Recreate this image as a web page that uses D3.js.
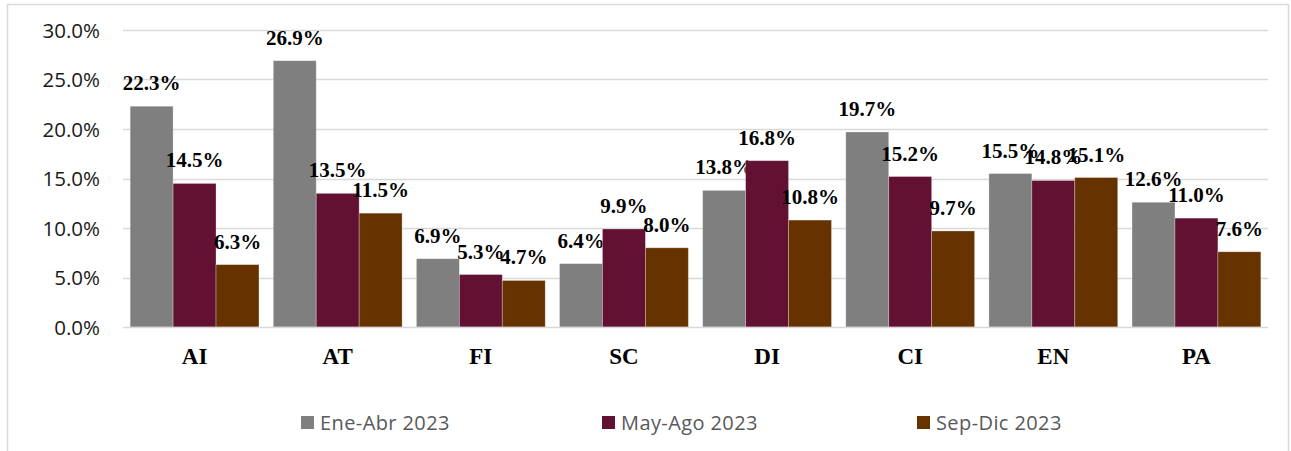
<!DOCTYPE html>
<html>
<head>
<meta charset="utf-8">
<script src="https://cdn.jsdelivr.net/npm/d3@7"></script>
<style>
  html, body { margin: 0; padding: 0; background: #fff; }
  svg { display: block; }
</style>
</head>
<body>
<svg id="chart" width="1291" height="451"></svg>
<script>
// Categories along the x axis
const categories = ["AI", "AT", "FI", "SC", "DI", "CI", "EN", "PA"];
// Period series (percent values)
const seriesNames = ["Ene-Abr 2023", "May-Ago 2023", "Sep-Dic 2023"];
const eneAbr = [22.3, 26.9, 6.9, 6.4, 13.8, 19.7, 15.5, 12.6];
const mayAgo = [14.5, 13.5, 5.3, 9.9, 16.8, 15.2, 14.8, 11.0];
const sepDic = [6.3, 11.5, 4.7, 8.0, 10.8, 9.7, 15.1, 7.6];
const yTicks = [0, 5, 10, 15, 20, 25, 30];

const seriesValues = [eneAbr, mayAgo, sepDic];
const colors = ["#7f7f7f", "#621132", "#663300"];

const svg = d3.select("#chart");

// Outer chart frame
svg.append("rect")
  .attr("x", 7.5).attr("y", 4.5)
  .attr("width", 1281).attr("height", 470)
  .attr("fill", "none")
  .attr("stroke", "#d9d9d9")
  .attr("stroke-width", 1.5);

const plot = { left: 123, right: 1268, top: 30, bottom: 327 };

const x = d3.scaleBand()
  .domain(categories)
  .range([plot.left, plot.right])
  .paddingInner(0.1)
  .paddingOuter(0.05);

const xs = d3.scaleBand()
  .domain(d3.range(seriesNames.length))
  .range([0, x.bandwidth()])
  .padding(0);

const y = d3.scaleLinear()
  .domain([0, 30])
  .range([plot.bottom, plot.top]);

// Horizontal gridlines
svg.append("g")
  .selectAll("line")
  .data(yTicks.filter(t => t > 0))
  .join("line")
  .attr("x1", plot.left).attr("x2", plot.right)
  .attr("y1", d => Math.round(y(d)) + 0.5)
  .attr("y2", d => Math.round(y(d)) + 0.5)
  .attr("stroke", "#d9d9d9")
  .attr("stroke-width", 1.3);

// Y axis labels
const yAxis = d3.axisLeft(y)
  .tickValues(yTicks)
  .tickFormat(d => d.toFixed(1) + "%")
  .tickSize(0)
  .tickPadding(0);

const yg = svg.append("g")
  .attr("transform", "translate(100,0)")
  .call(yAxis);
yg.select(".domain").remove();
yg.selectAll("text")
  .attr("font-family", "'Open Sans', sans-serif")
  .attr("font-size", "20.5px")
  .attr("fill", "#1a1a1a")
  .attr("dy", "0.36em");

// Bars
const groups = svg.append("g")
  .selectAll("g")
  .data(categories)
  .join("g")
  .attr("transform", d => `translate(${x(d)},0)`);

const cells = groups.selectAll("g")
  .data((c, i) => seriesValues.map((vals, s) => ({ s, v: vals[i] })))
  .join("g");

cells.append("rect")
  .attr("x", d => xs(d.s))
  .attr("y", d => y(d.v))
  .attr("width", xs.bandwidth())
  .attr("height", d => y(0) - y(d.v))
  .attr("fill", d => colors[d.s])
  .attr("stroke", "rgba(255,255,255,0.35)")
  .attr("stroke-width", 0.8);

// Baseline at zero
svg.append("line")
  .attr("x1", plot.left).attr("x2", plot.right)
  .attr("y1", y(0) + 0.5).attr("y2", y(0) + 0.5)
  .attr("stroke", "#d9d9d9")
  .attr("stroke-width", 1.6);

// Value labels above each bar
cells.append("text")
  .attr("x", d => xs(d.s) + xs.bandwidth() / 2)
  .attr("y", d => y(d.v) - 16)
  .attr("text-anchor", "middle")
  .attr("font-family", "'Liberation Serif', 'Times New Roman', serif")
  .attr("font-weight", "bold")
  .attr("font-size", "21px")
  .attr("fill", "#000")
  .text(d => d.v.toFixed(1) + "%");

// Category labels
const xAxis = d3.axisBottom(x).tickSize(0).tickPadding(0);
const xg = svg.append("g")
  .attr("transform", "translate(0,364)")
  .call(xAxis);
xg.select(".domain").remove();
xg.selectAll("text")
  .attr("dy", 0)
  .attr("font-family", "'Liberation Serif', 'Times New Roman', serif")
  .attr("font-weight", "bold")
  .attr("font-size", "23px")
  .attr("fill", "#000");

// Legend
const legendX = [301, 602, 917];
const legend = svg.append("g")
  .selectAll("g")
  .data(seriesNames)
  .join("g")
  .attr("transform", (d, i) => `translate(${legendX[i]},416)`);
legend.append("rect")
  .attr("width", 13).attr("height", 13)
  .attr("fill", (d, i) => colors[i]);
legend.append("text")
  .attr("x", 19)
  .attr("y", 14)
  .attr("font-family", "'Open Sans', sans-serif")
  .attr("font-size", "20px")
  .attr("letter-spacing", "0.4px")
  .attr("fill", "#595959")
  .text(d => d);
</script>
</body>
</html>
